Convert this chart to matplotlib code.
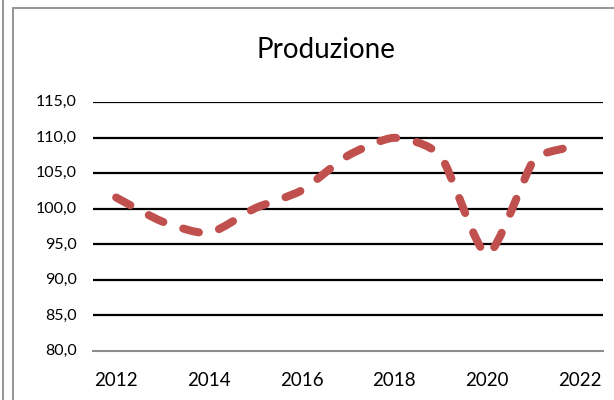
import matplotlib
matplotlib.use("Agg")
import matplotlib.pyplot as plt
import matplotlib.transforms as mtransforms
from matplotlib.path import Path
from matplotlib.patches import PathPatch, Rectangle
from matplotlib.lines import Line2D
import numpy as np

title = "Produzione"
years = [2012, 2013, 2014, 2015, 2016, 2017, 2018, 2019, 2020, 2021, 2021.65]
values = [101.6, 98.2, 96.6, 100.1, 102.6, 107.5, 110.0, 107.4, 93.6, 106.8, 108.5]
yticks = [80, 85, 90, 95, 100, 105, 110, 115]
xticks = [2012, 2014, 2016, 2018, 2020, 2022]

W, H = 614, 400
fig = plt.figure(figsize=(W / 100, H / 100), dpi=100)
fig.patch.set_facecolor("white")

# chart frame (Excel chart area) and neighbour's edge
fig.add_artist(Rectangle((13 / W, -0.05), 1.2, (H - 8) / H + 0.05, transform=fig.transFigure,
                         fill=False, edgecolor="#8c8c8c", lw=1.3))
fig.add_artist(Line2D([3 / W, 3 / W], [0, 1], transform=fig.transFigure, color="#8c8c8c", lw=1.3))

left, right, top, bottom = 93, 603, 102.3, 351
ax = fig.add_axes([left / W, (H - bottom) / H, (right - left) / W, (bottom - top) / H])
ax.set_xlim(2011.5, 2022.5)
ax.set_ylim(80, 115)
for s in ["left", "right", "top"]:
    ax.spines[s].set_visible(False)
ax.spines["bottom"].set_color("#8c8c8c")
ax.spines["bottom"].set_linewidth(1.5)
ax.set_yticks(yticks)
ax.set_yticklabels([])
ax.set_xticks(xticks)
ax.set_xticklabels([str(x) for x in xticks], fontsize=13.5, family="Lato")
ax.xaxis.set_tick_params(length=0, pad=15)
ax.yaxis.set_tick_params(length=0)
for v in yticks[1:]:
    ax.axhline(v, color="black", lw=1.6, zorder=1)

# y labels: right edge 16 px left of the plot area
ytrans = mtransforms.blended_transform_factory(ax.transAxes, ax.transData) + \
    mtransforms.ScaledTranslation(-16 / 100, 0, fig.dpi_scale_trans)
for v in yticks:
    ax.text(0, v, f"{v:.1f}".replace(".", ","), transform=ytrans, ha="right", va="center",
            fontsize=11.5, family="Lato", clip_on=False)

# Excel-style smoothed line: cubic Bezier through the points, built in screen space
P = ax.transData.transform(np.column_stack([years, values]))
n = len(P)
f = 1 / 6


def handle(pa, pb, seg):
    v = pb - pa
    d = np.hypot(*v)
    ff = f
    if d * f > seg / 2:
        ff = seg / (2 * d)
    return v * ff * 0.65


verts = [P[0]]
codes = [Path.MOVETO]
for i in range(n - 1):
    p0 = P[i - 1] if i > 0 else P[i]
    p1 = P[i]
    p2 = P[i + 1]
    p3 = P[i + 2] if i + 2 < n else P[i + 1]
    seg = np.hypot(*(p2 - p1))
    c1 = p1 + handle(p0, p2, seg)
    c2 = p2 - handle(p1, p3, seg)
    verts += [c1, c2, p2]
    codes += [Path.CURVE4] * 3
verts = ax.transData.inverted().transform(np.array(verts))
patch = PathPatch(Path(verts, codes), facecolor="none", edgecolor="#C0504D", lw=5.8,
                  linestyle=(0, (2.0, 2.6)), capstyle="round", joinstyle="round", zorder=3)
ax.add_patch(patch)

fig.text(326 / W, (H - 50) / H, title, ha="center", va="center", fontsize=20, family="Lato")

fig.savefig("out.png", dpi=100)
